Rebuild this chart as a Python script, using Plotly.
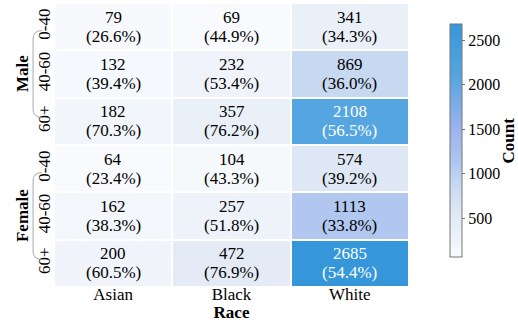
import plotly.graph_objects as go

races = ["Asian", "Black", "White"]
sexes = ["Male", "Female"]
ages = ["0-40", "40-60", "60+"]

counts_male = [[79, 69, 341], [132, 232, 869], [182, 357, 2108]]
counts_female = [[64, 104, 574], [162, 257, 1113], [200, 472, 2685]]
pct_male = [[26.6, 44.9, 34.3], [39.4, 53.4, 36.0], [70.3, 76.2, 56.5]]
pct_female = [[23.4, 43.3, 39.2], [38.3, 51.8, 33.8], [60.5, 76.9, 54.4]]

FONT = "Liberation Serif"

rows = []
z = []
pcts = []
for s, cnt, pc in [("Male", counts_male, pct_male), ("Female", counts_female, pct_female)]:
    for a, crow, prow in zip(ages, cnt, pc):
        rows.append(f"{s}|{a}")
        z.append(crow)
        pcts.append(prow)

zmin = min(min(r) for r in z)
zmax = max(max(r) for r in z)

colorscale = [
    [0.0, "#f8fafd"],
    [0.16, "#e3ebf6"],
    [0.2, "#dde7f4"],
    [0.31, "#c6d8f1"],
    [0.41, "#afc5f0"],
    [0.55, "#9db3f0"],
    [0.78, "#55a5e0"],
    [1.0, "#3597da"],
]

fig = go.Figure(go.Heatmap(
    z=z, x=races, y=rows,
    zmin=zmin, zmax=zmax,
    colorscale=colorscale,
    xgap=2, ygap=2,
    hoverinfo="skip",
    colorbar=dict(
        thickness=12, lenmode="pixels", len=233,
        xpad=0, ypad=0,
        x=(450 - 54) / 355, xanchor="left",
        y=(287 - 140.5) / 284, yanchor="middle",
        outlinecolor="#777", outlinewidth=1,
        ticks="outside", ticklen=3, tickcolor="#777",
        tickvals=[500, 1000, 1500, 2000, 2500],
        tickfont=dict(family=FONT, size=16, color="black"),
    ),
))

# colorbar title
fig.add_annotation(xref="paper", yref="paper", x=(508 - 54) / 355, y=(287 - 140.5) / 284,
                   text="<b>Count</b>", textangle=-90, showarrow=False,
                   xanchor="center", yanchor="middle",
                   font=dict(family=FONT, size=17, color="black"))

thr = 1500
for r, zr, pr in zip(rows, z, pcts):
    for race, v, p in zip(races, zr, pr):
        col = "white" if v > thr else "black"
        fig.add_annotation(x=race, y=r, text=str(v), showarrow=False, yshift=9.5,
                           font=dict(family=FONT, size=17, color=col))
        fig.add_annotation(x=race, y=r, text=f"({p:.1f}%)", showarrow=False, yshift=-9.5,
                           font=dict(family=FONT, size=17, color=col))

# group labels and braces
for i, s in enumerate(sexes):
    top = 1 - i * 0.5
    bot = top - 0.5
    mid = (top + bot) / 2
    fig.add_annotation(xref="paper", yref="paper", x=-0.09, y=mid, text=f"<b>{s}</b>",
                       textangle=-90, showarrow=False, xanchor="center", yanchor="middle",
                       font=dict(family=FONT, size=17, color="black"))
    bt = mid + 0.153
    bb = mid - 0.153
    xl, xr, d = -0.059, -0.034, 0.03
    path = (f"M {xr},{bt} Q {xl},{bt} {xl},{bt - d} L {xl},{bb + d} "
            f"Q {xl},{bb} {xr},{bb}")
    fig.add_shape(type="path", path=path, xref="paper", yref="paper",
                  line=dict(color="#aaaaaa", width=1))

fig.update_layout(
    width=518, height=322,
    margin=dict(l=54, r=109, t=3, b=35, autoexpand=False),
    plot_bgcolor="white", paper_bgcolor="white",
    font=dict(family=FONT, size=17, color="black"),
    xaxis=dict(title=dict(text="<b>Race</b>", standoff=0, font=dict(family=FONT, size=17)),
               tickfont=dict(family=FONT, size=17), showgrid=False, zeroline=False, ticks="",
               ticklabelstandoff=-5),
    yaxis=dict(autorange="reversed", tickvals=rows, ticktext=[r.split("|")[1] for r in rows],
               tickangle=-90, tickfont=dict(family=FONT, size=17), showgrid=False,
               zeroline=False, ticks=""),
)

fig.write_html("out.html")
